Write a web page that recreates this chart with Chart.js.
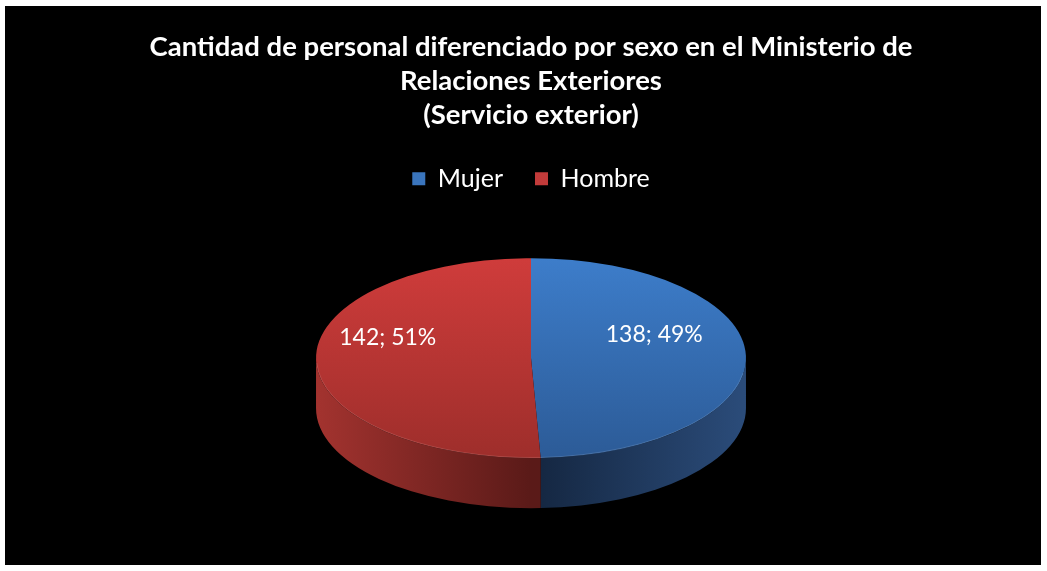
<!DOCTYPE html>
<html>
<head>
<meta charset="utf-8">
<script src="https://cdn.jsdelivr.net/npm/chart.js@4.4.1/dist/chart.umd.min.js"></script>
<style>
  html, body { margin: 0; padding: 0; background: #fff; }
  #wrap { position: absolute; left: 5px; top: 6px; width: 1036px; height: 559px; background: #000; }
</style>
</head>
<body>
<div id="wrap"><canvas id="chart"></canvas></div>
<script>
(function () {

  var categories = ['Mujer', 'Hombre'];
  var values = [138, 142];
  var titleLines = ['Cantidad de personal diferenciado por sexo en el Ministerio de', 'Relaciones Exteriores', '(Servicio exterior)'];

  // top face gradient (top -> bottom), side gradient, legend swatch
  var topColors = [['#3d7dca', '#2c5b97'], ['#cf3c3b', '#9e2e2b']];
  var sideColors = [['#142640', '#2b4c7a'], ['#a3332f', '#5a1a18']];
  var swatchColors = ['#3a75bd', '#c23b3a'];

  // 3D view settings
  var PIE_WIDTH = 0.415;  // ellipse width as part of the chart width
  var TILT = 0.465;       // ry / rx
  var DEPTH = 0.233;      // side height / rx

  var total = values.reduce(function (a, b) { return a + b; }, 0);

  function view (chart) {
    var arc = chart.getDatasetMeta(0).data[0];
    var rx = chart.width * PIE_WIDTH / 2;
    var ry = rx * TILT;
    var depth = rx * DEPTH;
    return { arc: arc, cx: arc.x, cy: arc.y - depth / 2, rx: rx, ry: ry, depth: depth };
  }

  function topColor (ctx) {
    var area = ctx.chart.chartArea;
    var c = topColors[ctx.dataIndex];
    if (!area) return c[0];
    var r = Math.min(area.width, area.height) / 2;
    var my = (area.top + area.bottom) / 2;
    var g = ctx.chart.ctx.createLinearGradient(0, my - r, 0, my + r);
    g.addColorStop(0, c[0]);
    g.addColorStop(1, c[1]);
    return g;
  }

  var pie3d = {
    id: 'pie3d',
    beforeDatasetsDraw: function (chart) {
      var v = view(chart);
      var ctx = chart.ctx;
      var arcs = chart.getDatasetMeta(0).data;

      // visible side walls (lower half of the ellipse)
      arcs.forEach(function (a, i) {
        [0, Math.PI * 2].forEach(function (shift) {
          var from = Math.max(a.startAngle - shift, 0);
          var to = Math.min(a.endAngle - shift, Math.PI);
          if (to <= from) return;
          // shade from the outer edge towards the front centre
          var g = i === 1
            ? ctx.createLinearGradient(v.cx - v.rx, 0, v.cx, 0)
            : ctx.createLinearGradient(v.cx, 0, v.cx + v.rx, 0);
          g.addColorStop(0, sideColors[i][0]);
          g.addColorStop(1, sideColors[i][1]);
          ctx.save();
          ctx.beginPath();
          ctx.ellipse(v.cx, v.cy, v.rx, v.ry, 0, from, to, false);
          ctx.ellipse(v.cx, v.cy + v.depth, v.rx, v.ry, 0, to, from, true);
          ctx.closePath();
          ctx.fillStyle = g;
          ctx.fill();
          ctx.restore();
        });
      });

      // squash the pie drawn by Chart.js into the top face
      var r = v.arc.outerRadius;
      ctx.save();
      ctx.translate(v.cx, v.cy);
      ctx.scale(v.rx / r, v.ry / r);
      ctx.translate(-v.arc.x, -v.arc.y);
    },
    afterDatasetsDraw: function (chart) {
      var ctx = chart.ctx;
      ctx.restore();
      var v = view(chart);
      var arcs = chart.getDatasetMeta(0).data;

      // thin highlight on the front rim
      ctx.save();
      ctx.beginPath();
      ctx.ellipse(v.cx, v.cy, v.rx - 0.5, v.ry - 0.5, 0, 0.15, Math.PI - 0.05);
      ctx.strokeStyle = 'rgba(255,255,255,0.12)';
      ctx.lineWidth = 1;
      ctx.stroke();
      ctx.restore();

      // data labels
      ctx.save();
      ctx.fillStyle = '#fff';
      ctx.font = '23px Lato';
      ctx.textAlign = 'center';
      ctx.textBaseline = 'middle';
      arcs.forEach(function (a, i) {
        var mid = (a.startAngle + a.endAngle) / 2;
        var x = v.cx + Math.cos(mid) * v.rx * 0.62 - 10;
        var y = v.cy + Math.sin(mid) * v.ry * 0.62 - 22;
        var pct = Math.round(values[i] / total * 100);
        ctx.fillText(values[i] + '; ' + pct + '%', x, y);
      });
      ctx.restore();
    }
  };

  var chart = new Chart(document.getElementById('chart'), {
    type: 'pie',
    data: {
      labels: categories,
      datasets: [{
        data: values,
        backgroundColor: topColor,
        borderWidth: 0
      }]
    },
    options: {
      responsive: true,
      maintainAspectRatio: false,
      animation: false,
      events: [],
      layout: { padding: { left: 16, right: 0, top: 0, bottom: 0 } },
      plugins: {
        title: {
          display: true,
          text: titleLines,
          color: '#fff',
          font: { family: 'Lato', size: 27.5, weight: 'bold', lineHeight: 1.24 },
          padding: { top: 24, bottom: 2 }
        },
        legend: {
          display: true,
          position: 'top',
          labels: {
            color: '#fff',
            font: { family: 'Lato', size: 25 },
            boxWidth: 13,
            boxHeight: 13,
            padding: 32,
            generateLabels: function (chart) {
              return categories.map(function (c, i) {
                return { text: c, fillStyle: swatchColors[i], strokeStyle: swatchColors[i], lineWidth: 0, fontColor: '#fff', index: i };
              });
            }
          }
        },
        tooltip: { enabled: false }
      }
    },
    plugins: [pie3d]
  });

})();
</script>
</body>
</html>
